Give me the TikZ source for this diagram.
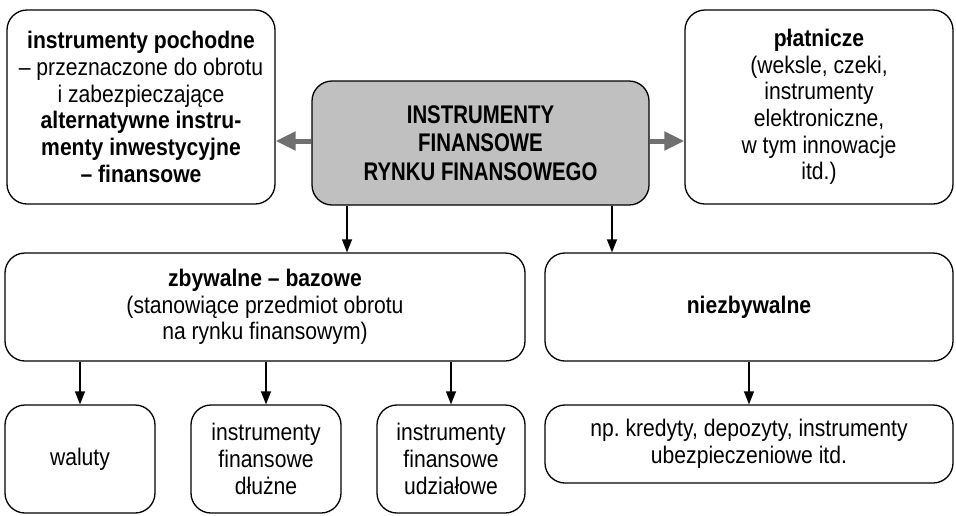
\documentclass[tikz,border=0pt]{standalone}
\usepackage{fontspec}
\setmainfont{Liberation Sans}[FakeStretch=0.88]
\newfontfamily\capsfont{Liberation Sans}[FakeStretch=0.8]
\usetikzlibrary{arrows.meta}
\definecolor{boxgray}{HTML}{C0C0C0}
\definecolor{arrgray}{HTML}{707070}
\frenchspacing
\begin{document}
\begin{tikzpicture}[x=1pt,y=-1pt,
  box/.style={draw=black, line width=1.3pt, rounded corners=20pt, align=center,
    inner sep=0pt, font=\fontsize{24pt}{26.7pt}\selectfont},
  thickarr/.style={draw=arrgray, line width=5pt, -{Triangle[length=20pt,width=18pt]}},
  arr/.style={draw=black, line width=1.3pt, -{Triangle[length=13pt,width=10pt]}}]
\useasboundingbox (0,0) rectangle (956,515);
\node[box, minimum width=268pt, minimum height=194pt] (poch) at (141,107)
  {\textbf{instrumenty pochodne}\\ – przeznaczone do obrotu\\ i zabezpieczające\\
   \textbf{alternatywne instru-}\\ \textbf{menty inwestycyjne}\\ \textbf{– finansowe}};
\node[box, fill=boxgray, minimum width=337pt, minimum height=124pt,
  font=\capsfont\fontsize{25.5pt}{28.5pt}\selectfont\bfseries] (cen) at (480.5,143)
  {INSTRUMENTY\\FINANSOWE\\RYNKU FINANSOWEGO};
\node[box, minimum width=268pt, minimum height=194pt] (plat) at (819,107)
  {\textbf{płatnicze}\\(weksle, czeki,\\instrumenty\\elektroniczne,\\w tym innowacje\\itd.)};
\node[box, minimum width=520pt, minimum height=108pt] (zb) at (265,307)
  {\textbf{zbywalne – bazowe}\\(stanowiące przedmiot obrotu\\na rynku finansowym)};
\node[box, minimum width=408pt, minimum height=108pt] (niez) at (749,307)
  {\textbf{niezbywalne}};
\node[box, minimum width=150pt, minimum height=108pt] (wal) at (80,459) {waluty};
\node[box, minimum width=150pt, minimum height=108pt] (dlu) at (266,459)
  {instrumenty\\finansowe\\dłużne};
\node[box, minimum width=148pt, minimum height=108pt] (udz) at (451,459)
  {instrumenty\\finansowe\\udziałowe};
\node[box, minimum width=408pt, minimum height=78pt] (np) at (749,444)
  {np.\ kredyty, depozyty, instrumenty\\ubezpieczeniowe itd.};
\coordinate (c1) at (347,0);
\coordinate (c2) at (612,0);
\coordinate (ym) at (0,141);
\draw[thickarr] (cen.west |- ym) -- (poch.east |- ym);
\draw[thickarr] (cen.east |- ym) -- (plat.west |- ym);
\draw[arr] (cen.south -| c1) -- (zb.north -| c1);
\draw[arr] (cen.south -| c2) -- (niez.north -| c2);
\draw[arr] (zb.south -| wal.north) -- (wal.north);
\draw[arr] (zb.south -| dlu.north) -- (dlu.north);
\draw[arr] (zb.south -| udz.north) -- (udz.north);
\draw[arr] (niez.south) -- (np.north);
\end{tikzpicture}
\end{document}
